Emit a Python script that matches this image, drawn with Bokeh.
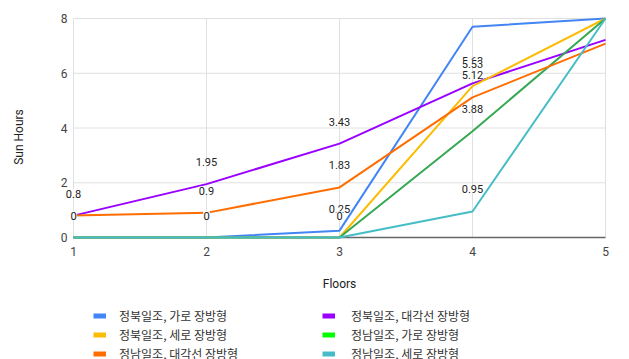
import math
from bokeh.plotting import figure
from bokeh.models import Range1d, Legend, LegendItem, ColumnDataSource
from bokeh.core.properties import value
from bokeh.embed import file_html
from bokeh.resources import INLINE

floors = [1, 2, 3, 4, 5]
floor_labels = ["1", "2", "3", "4", "5"]
y_ticks = [0, 2, 4, 6, 8]
y_tick_labels = ["0", "2", "4", "6", "8"]
series_names = [
    "정북일조, 가로 장방형",
    "정북일조, 대각선 장방형",
    "정북일조, 세로 장방형",
    "정남일조, 가로 장방형",
    "정남일조, 대각선 장방형",
    "정남일조, 세로 장방형",
]
north_wide = [0, 0, 0.25, 7.7, 8]
north_diag = [0.8, 1.95, 3.43, 5.63, 7.22]
north_tall = [0, 0, 0, 5.53, 8]
south_wide = [0, 0, 0, 3.88, 8]
south_diag = [0.8, 0.9, 1.83, 5.12, 7.08]
south_tall = [0, 0, 0, 0.95, 8]
series_values = [north_wide, north_diag, north_tall, south_wide, south_diag, south_tall]
line_colors = ["#4285F4", "#9900FF", "#FBBC04", "#34A853", "#FF6D01", "#46BDC6"]
legend_colors = ["#4285F4", "#9900FF", "#FBBC04", "#00FF00", "#FF6D01", "#46BDC6"]
# indices of points that carry a data label, per series
labelled = [[0, 1, 2], [0, 1, 2, 3], [0, 1, 2, 3], [3], [0, 1, 2, 3], [3]]

W, H = 629, 359
left, right, top, bottom = 73, 24, 18, 122
x_min, x_max = floors[0], floors[-1]
y_min, y_max = y_ticks[0], y_ticks[-1]
px_x = (W - left - right) / (x_max - x_min)
px_y = (H - top - bottom) / (y_max - y_min)

p = figure(width=W, height=H, output_backend="svg", toolbar_location=None,
           x_axis_type=None, y_axis_type=None, min_border=0,
           x_range=Range1d(x_min - left / px_x, x_max + right / px_x),
           y_range=Range1d(y_min - bottom / px_y, y_max + top / px_y))
p.outline_line_color = None
p.grid.visible = False
p.background_fill_color = "white"
p.border_fill_color = "white"

grid_col = "#e0e0e0"
# horizontal grid lines
p.segment(x0=[x_min] * len(y_ticks), x1=[x_max] * len(y_ticks), y0=y_ticks, y1=y_ticks,
          line_color=grid_col, line_width=1)
# vertical grid lines
p.segment(x0=floors, x1=floors, y0=[y_min] * len(floors), y1=[y_max] * len(floors),
          line_color=grid_col, line_width=1)
# baseline axis line
p.segment(x0=[x_min], x1=[x_max], y0=[y_min], y1=[y_min], line_color="#666666",
          line_width=1.5)

font = value("Roboto")
# y tick labels
p.text(x=[x_min] * len(y_ticks), y=y_ticks, text=y_tick_labels, x_offset=-6,
       text_align="right", text_baseline="middle", text_font=font,
       text_font_size="12px", text_color="#444444")
# x tick labels
p.text(x=floors, y=[y_min] * len(floors), text=floor_labels, y_offset=14,
       text_align="center", text_baseline="middle", text_font=font,
       text_font_size="12px", text_color="#444444")
# axis titles
p.text(x=[(x_min + x_max) / 2], y=[y_min], text=["Floors"], y_offset=46,
       text_align="center", text_baseline="middle", text_font=font,
       text_font_size="12px", text_color="#222222")
p.text(x=[x_min], y=[(y_min + y_max) / 2], text=["Sun Hours"], x_offset=-55, y_offset=9,
       angle=math.pi / 2, text_align="center", text_baseline="middle", text_font=font,
       text_font_size="12px", text_color="#222222")

for vals, col in zip(series_values, line_colors):
    p.line(floors, vals, line_color=col, line_width=2)

for vals, idx in zip(series_values, labelled):
    xs = [floors[i] for i in idx]
    ys = [vals[i] for i in idx]
    txt = [("%g" % vals[i]) for i in idx]
    src = ColumnDataSource(dict(x=xs, y=ys, t=txt))
    p.text("x", "y", text="t", source=src, y_offset=-22, text_align="center",
           text_baseline="middle", text_font=font, text_font_size="11px",
           text_color="#222222", background_fill_color="white")

# legend-only renderers (hidden), thicker swatches
dummies = []
for vals, c in zip(series_values, legend_colors):
    r = p.line(floors, vals, line_color=c, line_width=5)
    r.visible = False
    dummies.append(r)
items = [LegendItem(label=n, renderers=[r]) for n, r in zip(series_names, dummies)]


def make_legend(its, loc, standoff):
    return Legend(items=its, location=loc, orientation="vertical",
                  glyph_width=13, glyph_height=19, label_height=19, spacing=0,
                  padding=0, margin=0, label_standoff=standoff,
                  label_text_font="Noto Sans CJK KR", label_text_font_size="12px",
                  label_text_color="#333333", border_line_color=None,
                  background_fill_alpha=0, inactive_fill_alpha=0)


p.add_layout(make_legend(items[0::2], (93, -4), 13), "center")
p.add_layout(make_legend(items[1::2], (322, -4), 16), "center")

open("out.html", "w").write(file_html(p, INLINE))
